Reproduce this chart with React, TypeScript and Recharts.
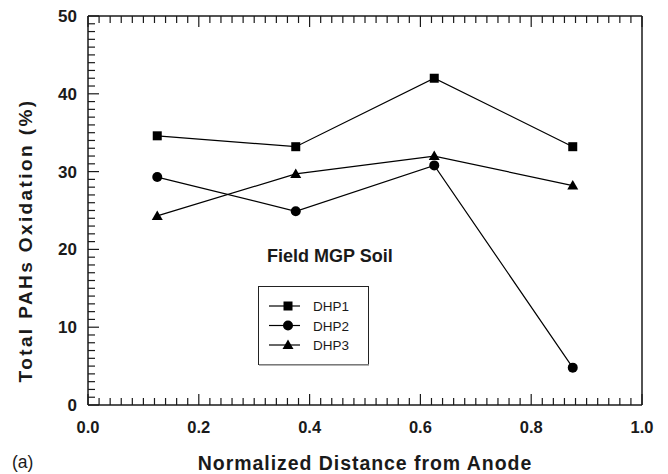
import React from 'react';
import { LineChart, Line, XAxis, YAxis, Legend } from 'recharts';

const distances = [0.125, 0.375, 0.625, 0.875];
const dhp1 = [34.6, 33.2, 42.0, 33.2];
const dhp2 = [29.3, 24.9, 30.8, 4.8];
const dhp3 = [24.3, 29.7, 32.0, 28.2];

const xMajorTicks = [0, 0.2, 0.4, 0.6, 0.8, 1.0];
const xTickLabels = ['0.0', '0.2', '0.4', '0.6', '0.8', '1.0'];
const yMajorTicks = [0, 10, 20, 30, 40, 50];
const yTickLabels = ['0', '10', '20', '30', '40', '50'];
const xMinorStep = 0.02;
const yMinorStep = 1;

const seriesNames = ['DHP1', 'DHP2', 'DHP3'];
const xTitle = 'Normalized Distance from Anode';
const yTitle = 'Total PAHs Oxidation (%)';
const annotation = 'Field MGP Soil';
const panelLabel = '(a)';

const data = distances.map((d, i) => ({ x: d, DHP1: dhp1[i], DHP2: dhp2[i], DHP3: dhp3[i] }));

const xTicks: number[] = [];
for (let i = 0; i <= Math.round(1 / xMinorStep); i++) xTicks.push(+(i * xMinorStep).toFixed(2));
const yTicks: number[] = [];
for (let i = 0; i <= Math.round(50 / yMinorStep); i++) yTicks.push(i * yMinorStep);

const FONT = '"Liberation Sans", Arial, Helvetica, sans-serif';
const INK = '#1a1a1a';

const isMajor = (v: number, majors: number[]) => majors.some((m) => Math.abs(m - v) < 1e-6);

const makeTick = (side: 'bottom' | 'top' | 'left' | 'right') => (props: any) => {
  const { x, y, payload } = props;
  const v = payload.value;
  const majors = side === 'bottom' || side === 'top' ? xMajorTicks : yMajorTicks;
  const major = isMajor(v, majors);
  const len = major ? 11 : 7;
  let line;
  if (side === 'bottom') line = <line x1={x} y1={y} x2={x} y2={y - len} stroke={INK} strokeWidth={1.2} />;
  else if (side === 'top') line = <line x1={x} y1={y} x2={x} y2={y + len} stroke={INK} strokeWidth={1.2} />;
  else if (side === 'left') line = <line x1={x} y1={y} x2={x + len} y2={y} stroke={INK} strokeWidth={1.2} />;
  else line = <line x1={x} y1={y} x2={x - len} y2={y} stroke={INK} strokeWidth={1.2} />;
  let label = null;
  if (major && side === 'bottom') {
    const idx = xMajorTicks.findIndex((m) => Math.abs(m - v) < 1e-6);
    label = (
      <text x={x} y={y + 28} textAnchor="middle" fontFamily={FONT} fontWeight="bold" fontSize={16.5} fill={INK}>
        {xTickLabels[idx]}
      </text>
    );
  }
  if (major && side === 'left') {
    const idx = yMajorTicks.findIndex((m) => Math.abs(m - v) < 1e-6);
    label = (
      <text x={x - 11} y={y + 6} textAnchor="end" fontFamily={FONT} fontWeight="bold" fontSize={17} fill={INK}>
        {yTickLabels[idx]}
      </text>
    );
  }
  return (
    <g>
      {line}
      {label}
    </g>
  );
};

const SquareDot = (props: any) => {
  const { cx, cy } = props;
  if (cx == null || cy == null) return null;
  return <rect x={cx - 4.5} y={cy - 4.5} width={9} height={9} fill="#000" />;
};
const CircleDot = (props: any) => {
  const { cx, cy } = props;
  if (cx == null || cy == null) return null;
  return <circle cx={cx} cy={cy} r={5} fill="#000" />;
};
const TriangleDot = (props: any) => {
  const { cx, cy } = props;
  if (cx == null || cy == null) return null;
  return <polygon points={`${cx},${cy - 5.5} ${cx - 5.5},${cy + 4} ${cx + 5.5},${cy + 4}`} fill="#000" />;
};

const markerFor = (name: string, cx: number, cy: number) => {
  if (name === 'DHP1') return <SquareDot cx={cx} cy={cy} />;
  if (name === 'DHP2') return <CircleDot cx={cx} cy={cy} />;
  return <TriangleDot cx={cx} cy={cy} />;
};

const LegendBox = () => (
  <svg width={112} height={80} style={{ display: 'block' }}>
    <rect x={0.5} y={0.5} width={110} height={78} fill="#fff" stroke="#222" strokeWidth={1} />
    <line x1={1} y1={79} x2={111} y2={79} stroke="#999" strokeWidth={1.5} />
    {seriesNames.map((n, i) => {
      const cy = 20 + i * 19.5;
      return (
        <g key={n}>
          <line x1={11} y1={cy} x2={42} y2={cy} stroke="#000" strokeWidth={1.2} />
          {markerFor(n, 30, cy)}
          <text x={55} y={cy + 5} fontFamily={FONT} fontSize={13.5} fill={INK}>
            {n}
          </text>
        </g>
      );
    })}
  </svg>
);

export default function App() {
  return (
    <div style={{ position: 'absolute', left: 0, top: 0, width: 668, height: 474, background: '#fff' }}>
      <LineChart width={668} height={474} data={data} margin={{ top: 0, right: 0, bottom: 0, left: 0 }}>
        <XAxis
          dataKey="x"
          type="number"
          domain={[0, 1]}
          ticks={xTicks}
          interval={0}
          tickSize={0}
          tickMargin={0}
          height={69}
          axisLine={{ stroke: INK, strokeWidth: 1.5 }}
          tickLine={false}
          tick={makeTick('bottom')}
          label={{
            value: xTitle,
            position: 'insideBottom',
            offset: 4,
            style: { fontFamily: FONT, fontWeight: 'bold', fontSize: 19.5, fill: INK, letterSpacing: 0.95 },
          }}
        />
        <XAxis
          xAxisId="top"
          orientation="top"
          dataKey="x"
          type="number"
          domain={[0, 1]}
          ticks={xTicks}
          interval={0}
          tickSize={0}
          tickMargin={0}
          height={16}
          axisLine={{ stroke: INK, strokeWidth: 1.5 }}
          tickLine={false}
          tick={makeTick('top')}
        />
        <YAxis
          type="number"
          domain={[0, 50]}
          ticks={yTicks}
          interval={0}
          tickSize={0}
          tickMargin={0}
          width={88}
          axisLine={{ stroke: INK, strokeWidth: 1.5 }}
          tickLine={false}
          tick={makeTick('left')}
          label={{
            value: yTitle,
            angle: -90,
            position: 'insideLeft',
            offset: 0,
            dx: 25,
            dy: 30,
            style: { fontFamily: FONT, fontWeight: 'bold', fontSize: 19, fill: INK, textAnchor: 'middle', letterSpacing: 2.4 },
          }}
        />
        <YAxis
          yAxisId="right"
          orientation="right"
          type="number"
          domain={[0, 50]}
          ticks={yTicks}
          interval={0}
          tickSize={0}
          tickMargin={0}
          width={26}
          axisLine={{ stroke: INK, strokeWidth: 1.5 }}
          tickLine={false}
          tick={makeTick('right')}
        />
        <Legend
          layout="horizontal"
          verticalAlign="middle"
          align="center"
          wrapperStyle={{ position: 'absolute', left: 258, top: 286, width: 112, height: 80 }}
          content={() => <LegendBox />}
        />
        <Line dataKey="DHP1" name="DHP1" stroke="#000" strokeWidth={1.2} dot={<SquareDot />} isAnimationActive={false} />
        <Line dataKey="DHP2" name="DHP2" stroke="#000" strokeWidth={1.2} dot={<CircleDot />} isAnimationActive={false} />
        <Line dataKey="DHP3" name="DHP3" stroke="#000" strokeWidth={1.2} dot={<TriangleDot />} isAnimationActive={false} />
      </LineChart>
      <div
        style={{
          position: 'absolute',
          left: 267,
          top: 245,
          fontFamily: FONT,
          fontWeight: 'bold',
          fontSize: 18,
          color: INK,
          whiteSpace: 'nowrap',
          lineHeight: '22px',
        }}
      >
        {annotation}
      </div>
      <div
        style={{
          position: 'absolute',
          left: 12,
          top: 451,
          fontFamily: FONT,
          fontSize: 17.5,
          color: INK,
          whiteSpace: 'nowrap',
          lineHeight: '22px',
        }}
      >
        {panelLabel}
      </div>
    </div>
  );
}
